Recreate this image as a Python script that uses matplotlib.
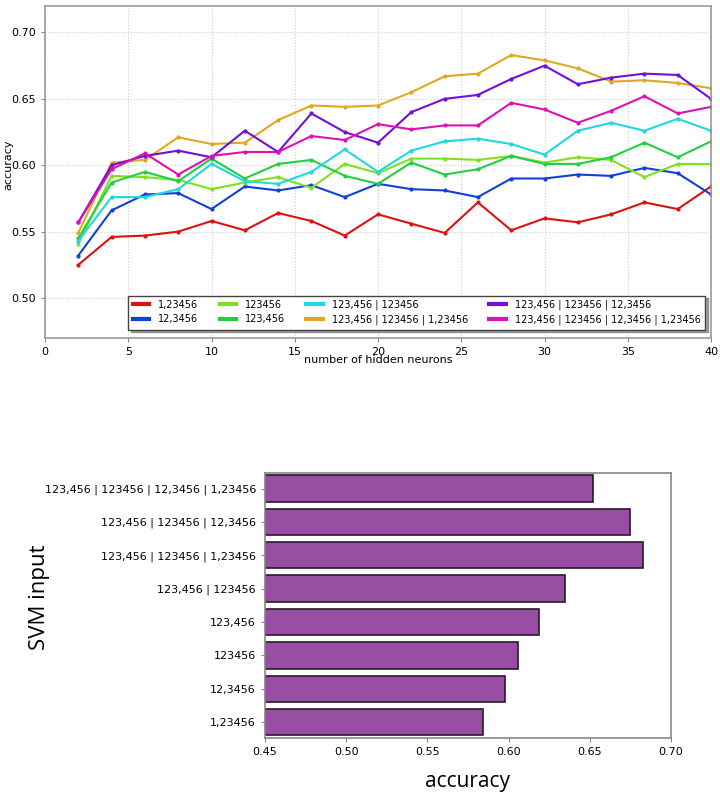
import matplotlib
matplotlib.use("Agg")
import matplotlib.pyplot as plt
import numpy as np

neurons = [2, 4, 6, 8, 10, 12, 14, 16, 18, 20, 22, 24, 26, 28, 30, 32, 34, 36, 38, 40]
series_names = ["1,23456", "12,3456", "123456", "123,456",
                "123,456 | 123456", "123,456 | 123456 | 1,23456",
                "123,456 | 123456 | 12,3456", "123,456 | 123456 | 12,3456 | 1,23456"]
acc_1_23456 = [0.525, 0.546, 0.547, 0.550, 0.558, 0.551, 0.564, 0.558, 0.547, 0.563,
               0.556, 0.549, 0.572, 0.551, 0.560, 0.557, 0.563, 0.572, 0.567, 0.584]
acc_12_3456 = [0.532, 0.566, 0.578, 0.579, 0.567, 0.584, 0.581, 0.585, 0.576, 0.586,
               0.582, 0.581, 0.576, 0.590, 0.590, 0.593, 0.592, 0.598, 0.594, 0.578]
acc_123456 = [0.541, 0.592, 0.591, 0.589, 0.582, 0.587, 0.591, 0.583, 0.601, 0.594,
              0.605, 0.605, 0.604, 0.607, 0.602, 0.606, 0.604, 0.591, 0.601, 0.601]
acc_123_456 = [0.545, 0.587, 0.595, 0.588, 0.605, 0.590, 0.601, 0.604, 0.592, 0.586,
               0.602, 0.593, 0.597, 0.607, 0.601, 0.601, 0.606, 0.617, 0.606, 0.618]
acc_c2 = [0.543, 0.576, 0.576, 0.582, 0.601, 0.588, 0.586, 0.595, 0.612, 0.595,
          0.611, 0.618, 0.620, 0.616, 0.608, 0.626, 0.632, 0.626, 0.635, 0.626]
acc_c3a = [0.549, 0.602, 0.604, 0.621, 0.616, 0.617, 0.634, 0.645, 0.644, 0.645,
           0.655, 0.667, 0.669, 0.683, 0.679, 0.673, 0.663, 0.664, 0.662, 0.658]
acc_c3b = [0.557, 0.600, 0.607, 0.611, 0.606, 0.626, 0.610, 0.639, 0.625, 0.617,
           0.640, 0.650, 0.653, 0.665, 0.675, 0.661, 0.666, 0.669, 0.668, 0.650]
acc_c4 = [0.557, 0.597, 0.609, 0.593, 0.607, 0.610, 0.610, 0.622, 0.619, 0.631,
          0.627, 0.630, 0.630, 0.647, 0.642, 0.632, 0.641, 0.652, 0.639, 0.644]
line_colors = ["#dd1111", "#1040d8", "#80e020", "#20d040",
               "#20d8e0", "#e0a820", "#7010d8", "#e010b0"]

svm_inputs = ["123,456 | 123456 | 12,3456 | 1,23456", "123,456 | 123456 | 12,3456",
              "123,456 | 123456 | 1,23456", "123,456 | 123456", "123,456",
              "123456", "12,3456", "1,23456"]
svm_acc = [0.652, 0.675, 0.683, 0.635, 0.619, 0.606, 0.598, 0.584]

fig = plt.figure(figsize=(7.2, 7.93), dpi=100)

# ---- top line chart ----
ax1 = fig.add_axes([0.0625, 0.574, 0.925, 0.4185])
all_series = [acc_1_23456, acc_12_3456, acc_123456, acc_123_456, acc_c2, acc_c3a, acc_c3b, acc_c4]
for name, vals, col in zip(series_names, all_series, line_colors):
    ax1.plot(neurons, vals, color=col, lw=1.5, marker='.', markersize=4, label=name)
ax1.set_xlim(0, 40)
ax1.set_ylim(0.47, 0.72)
ax1.set_xticks(range(0, 41, 5))
ax1.set_yticks([0.50, 0.55, 0.60, 0.65, 0.70])
ax1.set_yticklabels(["0.50", "0.55", "0.60", "0.65", "0.70"])
ax1.grid(True, color="#cccccc", linestyle=":", linewidth=0.8)
ax1.tick_params(labelsize=8, length=3, color="#888888")
for s in ax1.spines.values():
    s.set_color("#999999")
    s.set_linewidth(1.2)
ax1.set_xlabel("number of hidden neurons", fontsize=8, labelpad=-1)
ax1.set_ylabel("accuracy", fontsize=8)
ax1.yaxis.set_label_coords(-0.048, 0.52)
leg = ax1.legend(ncol=4, loc="lower right", bbox_to_anchor=(0.998, 0.01), fontsize=7,
                 shadow=True, fancybox=False, framealpha=1, edgecolor="#444444",
                 handlelength=1.7, handletextpad=0.9, columnspacing=2.2,
                 borderpad=0.45, labelspacing=0.45)
for h in leg.get_lines():
    h.set_linewidth(3)
    h.set_marker("")

# ---- bottom bar chart ----
ax2 = fig.add_axes([0.368, 0.0697, 0.564, 0.334])
ypos = np.arange(len(svm_inputs))[::-1]
ax2.barh(ypos, np.array(svm_acc) - 0.45, left=0.45, height=0.79, color="#984ea3",
         edgecolor="#2a1a2a", linewidth=1.2)
ax2.set_yticks(ypos)
ax2.set_yticklabels(svm_inputs, fontsize=8, family=["Liberation Sans Narrow", "DejaVu Sans"])
ax2.set_xlim(0.45, 0.70)
ax2.set_ylim(-0.47, 7.47)
ax2.set_xticks([0.45, 0.50, 0.55, 0.60, 0.65, 0.70])
ax2.set_xticklabels(["0.45", "0.50", "0.55", "0.60", "0.65", "0.70"], fontsize=8)
ax2.tick_params(length=3, color="#888888")
for s in ax2.spines.values():
    s.set_color("#888888")
    s.set_linewidth(1.2)
ax2.set_xlabel("accuracy", fontsize=15, family=["Open Sans", "DejaVu Sans"], labelpad=10)
ax2.set_ylabel("SVM input", fontsize=16, family=["Open Sans", "DejaVu Sans"])
ax2.yaxis.set_label_coords(-0.53, 0.53)

fig.savefig("out.png", dpi=100)
